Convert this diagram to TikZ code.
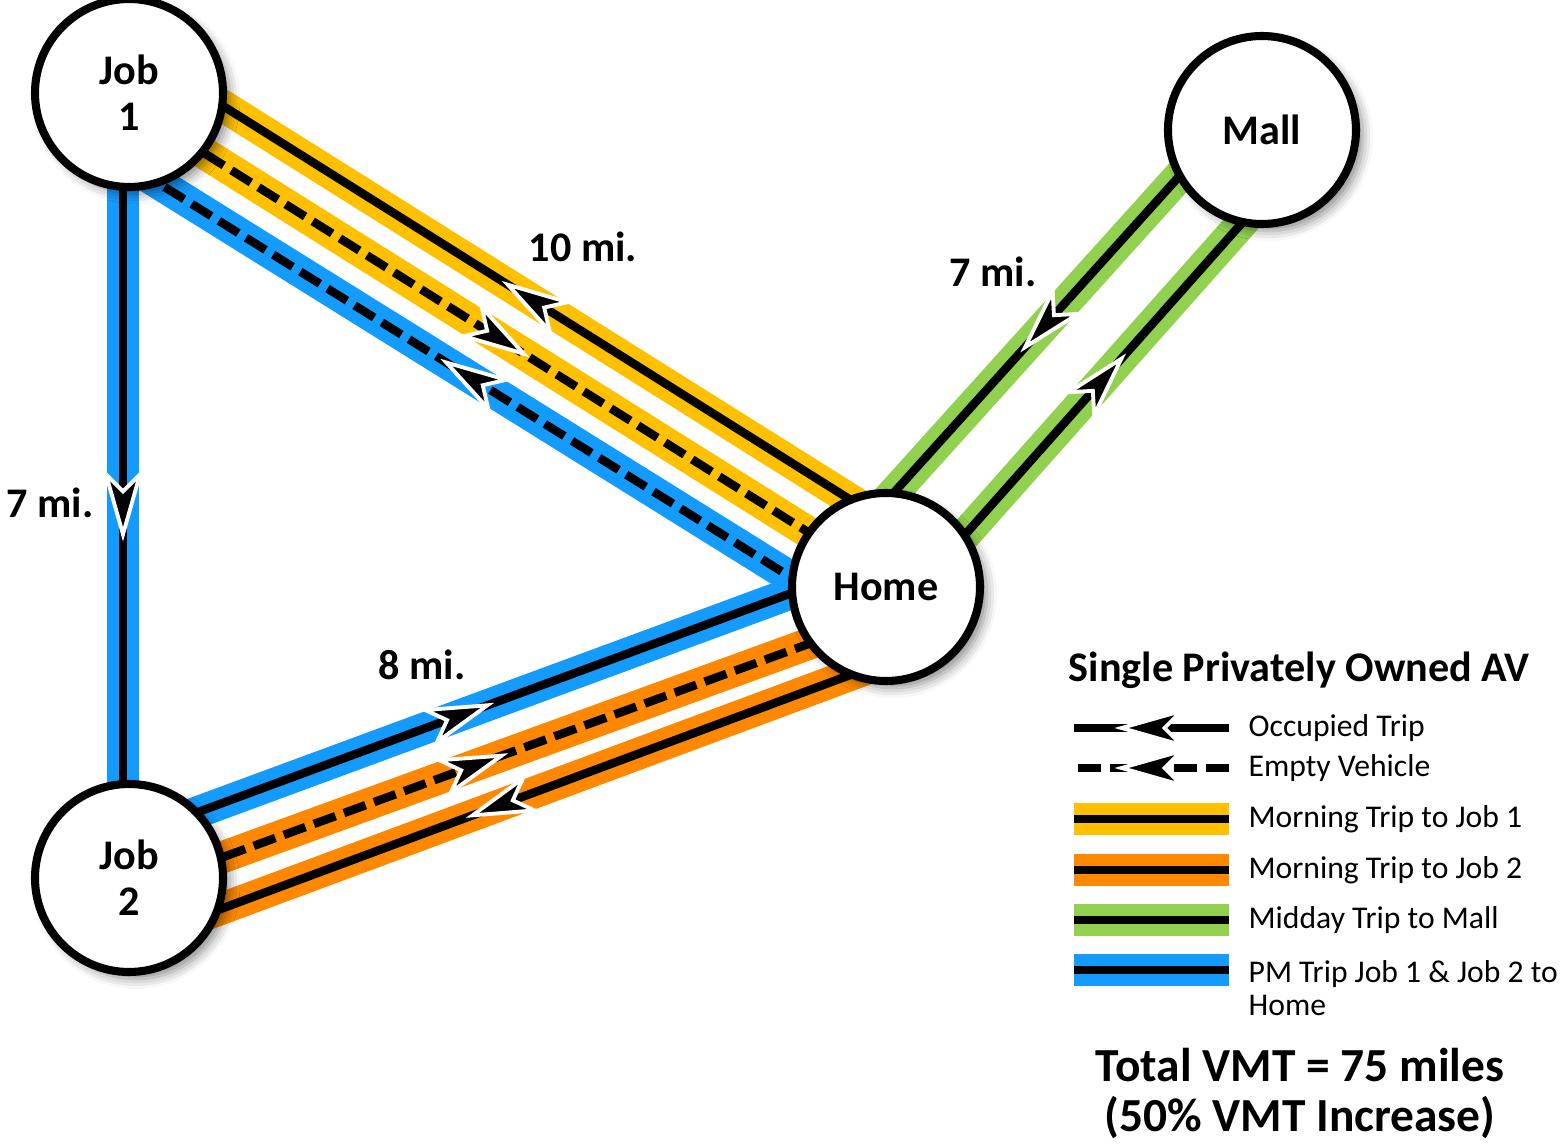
\documentclass[tikz,border=0pt]{standalone}
\usepackage{fontspec}
\setmainfont{Carlito}
\usetikzlibrary{calc,backgrounds,decorations.markings,shadows.blur}

\definecolor{tripYellow}{RGB}{255,192,0}
\definecolor{tripOrange}{RGB}{255,136,0}
\definecolor{tripGreen}{RGB}{146,208,80}
\definecolor{tripBlue}{RGB}{20,155,255}

\newcommand{\tripArrow}{%
  \filldraw[fill=black, draw=white, line width=1.1pt, solid, line join=miter]
    (0.3cm,0) -- (-0.3cm,0.17cm) -- (-0.13cm,0) -- (-0.3cm,-0.17cm) -- cycle;}

\tikzset{
  spot/.style={circle, draw, line width=2.3pt, fill=white, minimum size=1.88cm,
    font=\fontsize{12}{13}\selectfont\bfseries, align=center,
    blur shadow={shadow xshift=0.07cm, shadow yshift=-0.07cm,
      shadow blur radius=0.1cm, shadow opacity=45}},
  dist label/.style={font=\fontsize{12}{14}\selectfont\bfseries},
  occupied trip/.style={line width=0.085cm},
  empty trip/.style={line width=0.085cm, dash pattern=on 0.23cm off 0.09cm},
  trip band/.style={preaction={draw=#1, solid, line width=0.32cm}},
  midarrow/.style={postaction={decorate, decoration={markings,
    mark=at position #1 with {\tripArrow}}}},
  legend text/.style={anchor=west, inner sep=0pt,
    font=\fontsize{9}{9.6}\selectfont, align=left}
}

\begin{document}
\begin{tikzpicture}
    \useasboundingbox (0,0) rectangle (15.63,11.45);

    % places
    \node [spot] (job1) at (1.29,10.52) {Job\\1};
    \node [spot] (mall) at (12.62,10.15) {Mall};
    \node [spot] (home) at (8.86,5.58) {Home};
    \node [spot] (job2) at (1.29,2.67) {Job\\2};

    % trips, kept under the places
    \begin{scope}[on background layer]
        \draw [occupied trip, trip band=tripYellow, midarrow=0.5] ($(home)!0.55cm!-90:(job1)$) -- ($(job1)!0.39cm!90:(home)$);
        \draw [empty trip, trip band=tripYellow, midarrow=0.49] ($(job1)!-0.11cm!90:(home)$) -- ($(home)!0.05cm!-90:(job1)$);
        \draw [empty trip, trip band=tripBlue, midarrow=0.51] ($(home)!-0.42cm!-90:(job1)$) -- ($(job1)!-0.61cm!90:(home)$);

        \draw [occupied trip, trip band=tripBlue, midarrow=0.452] ($(job2)!0.38cm!90:(home)$) -- ($(home)!0.27cm!-90:(job2)$);
        \draw [empty trip, trip band=tripOrange, midarrow=0.446] ($(job2)!-0.125cm!90:(home)$) -- ($(home)!-0.27cm!-90:(job2)$);
        \draw [occupied trip, trip band=tripOrange, midarrow=0.54] ($(home)!-0.70cm!-90:(job2)$) -- ($(job2)!-0.61cm!90:(home)$);

        \draw [occupied trip, trip band=tripGreen, midarrow=0.487] ($(mall)!0.305cm!-90:(home)$) -- ($(home)!0.574cm!90:(mall)$);
        \draw [occupied trip, trip band=tripGreen, midarrow=0.5] ($(home)!-0.244cm!90:(mall)$) -- ($(mall)!-0.468cm!-90:(home)$);

        \draw [occupied trip, trip band=tripBlue, midarrow=0.524] ([xshift=-0.06cm]job1.center) -- ([xshift=-0.06cm]job2.center);
    \end{scope}

    % distances
    \node [dist label] (d1h) at (5.83,8.98) {10 mi.};
    \node [dist label] (dhm) at (9.93,8.73) {7 mi.};
    \node [dist label] (d12) at (0.50,6.42) {7 mi.};
    \node [dist label] (d2h) at (4.22,4.80) {8 mi.};

    % legend
    \node [legend text, font=\fontsize{12}{14}\selectfont\bfseries] (lgtitle) at (10.68,4.75) {Single Privately Owned AV};
    \node [legend text] (lgocc) at (12.48,4.17) {Occupied Trip};
    \node [legend text] (lgempty) at (12.48,3.77) {Empty Vehicle};
    \node [legend text] (lgam1) at (12.48,3.26) {Morning Trip to Job 1};
    \node [legend text] (lgam2) at (12.48,2.75) {Morning Trip to Job 2};
    \node [legend text] (lgmid) at (12.48,2.25) {Midday Trip to Mall};
    \node [legend text] (lgpm) at (12.48,1.57) {PM Trip Job 1 \& Job 2 to\\Home};

    \draw [occupied trip, midarrow=0.5] ([xshift=-0.19cm]lgocc.west) -- ++(-1.55,0);
    \draw [empty trip, midarrow=0.5] ([xshift=-0.19cm]lgempty.west) -- ++(-1.55,0);
    \draw [occupied trip, trip band=tripYellow] ([xshift=-0.19cm]lgam1.west) -- ++(-1.55,0);
    \draw [occupied trip, trip band=tripOrange] ([xshift=-0.19cm]lgam2.west) -- ++(-1.55,0);
    \draw [occupied trip, trip band=tripGreen] ([xshift=-0.19cm]lgmid.west) -- ++(-1.55,0);
    \draw [occupied trip, trip band=tripBlue] ([xshift=-0.19cm, yshift=0.18cm]lgpm.west) -- ++(-1.55,0);

    \node [font=\fontsize{13.5}{14.2}\selectfont\bfseries, align=center] (total) at (13.00,0.52) {Total VMT = 75 miles\\(50\% VMT Increase)};
\end{tikzpicture}
\end{document}
